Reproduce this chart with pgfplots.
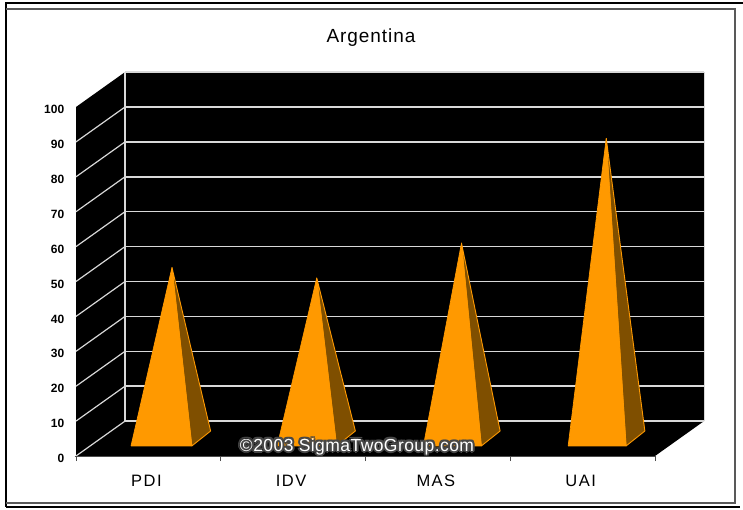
\documentclass[border=0pt]{standalone}
\usepackage{pgfplots}
\pgfplotsset{compat=1.18}
\usepackage{fontspec}
\setmainfont{Liberation Sans}
\definecolor{pyr}{HTML}{FF9900}
\definecolor{pyrdark}{HTML}{7F4F00}
\definecolor{gl}{HTML}{D8D8D8}
\begin{document}
\begin{tikzpicture}[x=1pt,y=1pt]
\path[use as bounding box] (0,0) rectangle (743,509);
% outer frame
\draw[black,line width=2.6pt] (6,2) -- (740,2);
\draw[black,line width=2.6pt] (743,506) -- (6,506) -- (6,2);
\draw[black!65,line width=1.6pt] (6,500) -- (735,500) -- (735,6) -- (6,6);
\node[font=\fontsize{19}{21}\selectfont\addfontfeature{LetterSpace=5},anchor=center] at (371,471) {Argentina};
% frame, walls, grid, tick labels
\begin{axis}[
  at={(76pt,53pt)},anchor=south west,
  width=579pt,height=349pt,scale only axis,
  xmin=0,xmax=4,ymin=0,ymax=100,clip=false,
  axis line style={draw=none},
  xtick={0.5,1.5,2.5,3.5},
  xticklabels={PDI,IDV,MAS,UAI},
  minor xtick={0,1,2,3,4},
  ytick={0,10,...,100},
  tick style={draw=none},
  minor tick style={draw=black!70,line width=1pt},
  minor tick length=5pt,
  tick align=outside,
  axis x line*=bottom,axis y line*=left,
  axis x discontinuity=none,
  xticklabel style={font=\fontsize{16.5}{18}\selectfont\addfontfeature{LetterSpace=9},yshift=-11pt,xshift=-2pt},
  yticklabel style={font=\bfseries\fontsize{12}{14}\selectfont,xshift=-4pt,yshift=-2.5pt},
  /pgf/number format/assume math mode=true,
]
% black box: left wall, floor and back wall
\addplot[fill=black,draw=none] coordinates {(0,0) (0.3385,10) (0.3385,110) (4.3385,110) (4.3385,10) (4,0) (0,0)} ;
\addplot[fill=black,draw=none] coordinates {(0,0) (0,100) (0.3385,110) (0.3385,10)};
% back-wall grid lines
\pgfplotsinvokeforeach{10,20,...,110}{
  \addplot[gl,line width=1.5pt] coordinates {(0.3385,#1) (4.3385,#1)};
}
% left-wall grid lines
\pgfplotsinvokeforeach{0,10,...,90}{
  \addplot[gl,line width=1.2pt] coordinates {(0,#1) (0.3385,#1+10)};
}
\addplot[gl,line width=1.5pt] coordinates {(0.3385,10) (0.3385,110)};
\addplot[gl,line width=.8pt] coordinates {(4.3385,10) (4.3385,110)};
% base line
\addplot[black!70,line width=1pt] coordinates {(-0.01,0) (4,0)};
\end{axis}
% pyramids, in the plane half way through the depth (0 is 5 units up)
\begin{axis}[
  at={(76pt,53pt)},anchor=south west,
  width=579pt,height=349pt,scale only axis,
  xmin=0,xmax=4,ymin=-5,ymax=95,clip=false,hide axis,
]
\addplot[fill=pyrdark,draw=pyr,line width=.9pt,line join=round] coordinates {(0.80,-2.13) (0.93,2.16) (0.663,49) (0.80,-2.13)};
\addplot[fill=pyr,draw=pyr,line width=.7pt,line join=round] coordinates {(0.38,-2.13) (0.80,-2.13) (0.663,49) (0.38,-2.13)};
\addplot[fill=pyrdark,draw=pyr,line width=.9pt,line join=round] coordinates {(1.80,-2.13) (1.93,2.16) (1.663,46) (1.80,-2.13)};
\addplot[fill=pyr,draw=pyr,line width=.7pt,line join=round] coordinates {(1.39,-2.13) (1.80,-2.13) (1.663,46) (1.39,-2.13)};
\addplot[fill=pyrdark,draw=pyr,line width=.9pt,line join=round] coordinates {(2.80,-2.13) (2.93,2.16) (2.663,56) (2.80,-2.13)};
\addplot[fill=pyr,draw=pyr,line width=.7pt,line join=round] coordinates {(2.40,-2.13) (2.80,-2.13) (2.663,56) (2.40,-2.13)};
\addplot[fill=pyrdark,draw=pyr,line width=.9pt,line join=round] coordinates {(3.80,-2.13) (3.93,2.16) (3.663,86) (3.80,-2.13)};
\addplot[fill=pyr,draw=pyr,line width=.7pt,line join=round] coordinates {(3.40,-2.13) (3.80,-2.13) (3.663,86) (3.40,-2.13)};
\end{axis}
% watermark with a dark halo
\foreach \dx/\dy in {-2/0,2/0,0/-2,0/2,-1.5/-1.5,1.5/-1.5,-1.5/1.5,1.5/1.5}{
  \node[font=\fontsize{17.5}{19}\selectfont\addfontfeature{LetterSpace=2.5},text=black!72] at (357+\dx,62.5+\dy) {©2003 SigmaTwoGroup.com};
}
\node[font=\fontsize{17.5}{19}\selectfont\addfontfeature{LetterSpace=2.5},text=white] at (357,62.5) {©2003 SigmaTwoGroup.com};
\end{tikzpicture}
\end{document}
